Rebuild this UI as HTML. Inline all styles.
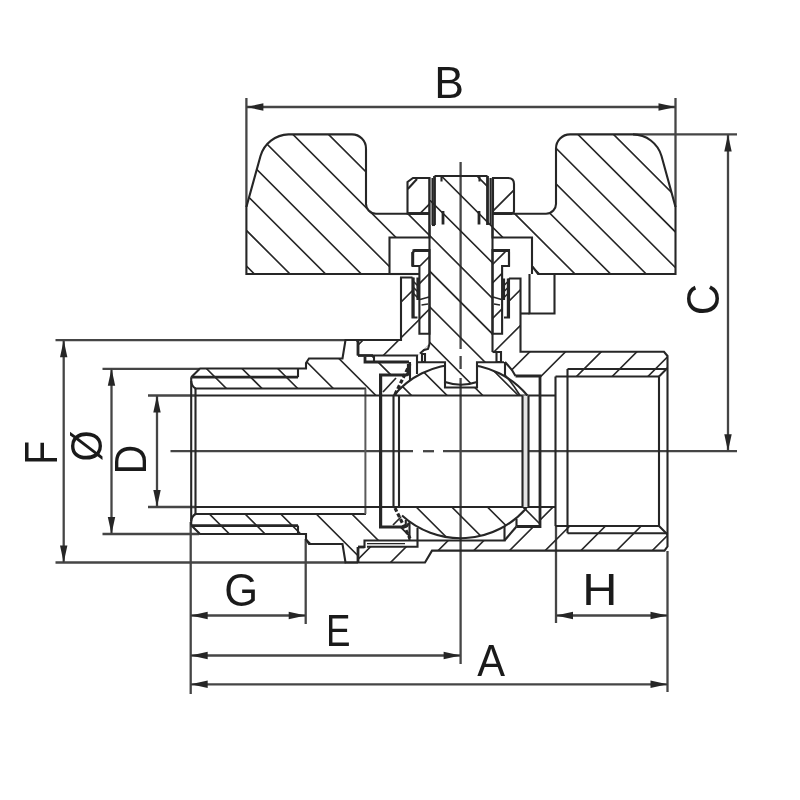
<!DOCTYPE html>
<html><head><meta charset="utf-8"><title>Ball valve drawing</title>
<style>
html,body{margin:0;padding:0;background:#fff;}
body{width:800px;height:800px;overflow:hidden;font-family:"Liberation Sans",sans-serif;}
svg{display:block;filter:grayscale(1);}
svg text{font-family:"Liberation Sans",sans-serif;}
</style></head><body>
<svg width="800" height="800" viewBox="0 0 800 800" stroke="#262626" fill="none" stroke-linecap="butt" stroke-linejoin="miter">
<defs>
<clipPath id="c1"><path d="M246.4 274V207L260.5 156A30 30 0 0 1 288.5 134.4H352A14 14 0 0 1 366 148.4V203A10 10 0 0 0 376 213.7H429.5V237.5H389.5V274Z"/></clipPath>
<clipPath id="c2"><path d="M675.5 274V207L661.5 156A30 30 0 0 0 633 134.4H570A14 14 0 0 0 556 148.4V203A10 10 0 0 1 546 213.7H492.5V237.5H532V266L538 274Z"/></clipPath>
<clipPath id="c3"><path d="M407.5 213.5V182L413 178H429.5V213.5Z"/></clipPath>
<clipPath id="c4"><path d="M493 178H508Q514 178 514 184V211Q514 213.5 511.5 213.5H493Z"/></clipPath>
<clipPath id="c5"><path d="M434.5 176H487.5V200H492.5V352H501V362H477V382Q461 387 445 382V362H420V353.5L424 350L428 349L429.5 344V200H434.5Z"/></clipPath>
<clipPath id="c6"><path d="M358 340H401V277.5H412.5V317.5H419.4V333.7H429.5V344L420 353.5L418 355.5H358Z"/></clipPath>
<clipPath id="c7"><path d="M520.5 278.5H509V317.5H502.1V333.7H492.5V352H501V362H505L515.5 376H540V395.5H555.5V376.5H659L667.5 369V356L664 351.8H520.5Z"/></clipPath>
<clipPath id="c8"><path d="M358 547H417.5V540.5H504.5L516.5 526.5H540V507H555.5V526H659L667.5 533V547Q667.5 550.5 664 550.5H432L425 562.5H358Z"/></clipPath>
<clipPath id="c9"><path d="M191.2 377.2L200 368.5H306V363L309 358.5H342L343.5 357L345.5 340H358V355.5H373V362H408.5V375H381V395.5H366V388.5H195V380Z"/></clipPath>
<clipPath id="c10"><path d="M191.2 525.2L200 534H306V539.4L309 544H342L343.5 545.4L345.5 562.5H358V547H364.5V540.5H409.5V527H381V507H366V514H195V522Z"/></clipPath>
<clipPath id="slot"><path d="M390 360H445V387.5H477V360H530V396H390Z"/></clipPath>
<clipPath id="c12"><path d="M393.8 395.5A87 87 0 0 1 527.4 395.5Z"/></clipPath>
<clipPath id="c13"><path d="M393.8 507A87 87 0 0 0 527.4 507Z"/></clipPath>
</defs>
<line x1="246.4" y1="98" x2="246.4" y2="207" stroke-width="2.3" stroke="#454545"/>
<line x1="675.5" y1="98" x2="675.5" y2="207" stroke-width="2.3" stroke="#454545"/>
<line x1="246.4" y1="107" x2="675.5" y2="107" stroke-width="2.3" stroke="#454545"/>
<polygon points="246.4,107 263.4,103.3 263.4,110.7" fill="#262626" stroke="none"/>
<polygon points="675.5,107 658.5,103.3 658.5,110.7" fill="#262626" stroke="none"/>
<text x="0" y="0" font-size="100" stroke="none" fill="#1a1a1a" transform="matrix(0.4449 0 0 0.4493 434.14 98.00)">B</text>
<line x1="633" y1="134.4" x2="737" y2="134.4" stroke-width="2.3" stroke="#454545"/>
<line x1="667" y1="451.2" x2="737" y2="451.2" stroke-width="2.3" stroke="#454545"/>
<line x1="728" y1="134.4" x2="728" y2="451.2" stroke-width="2.3" stroke="#454545"/>
<polygon points="728,134.4 724.3,151.4 731.7,151.4" fill="#262626" stroke="none"/>
<polygon points="728,451.2 724.3,434.2 731.7,434.2" fill="#262626" stroke="none"/>
<text x="0" y="0" font-size="100" stroke="none" fill="#1a1a1a" transform="matrix(0 -0.4365 0.4577 0 718.54 315.18)">C</text>
<line x1="55.5" y1="340.2" x2="346" y2="340.2" stroke-width="2.3" stroke="#454545"/>
<line x1="55.5" y1="562.5" x2="346" y2="562.5" stroke-width="2.3" stroke="#454545"/>
<line x1="63.7" y1="340.2" x2="63.7" y2="562.5" stroke-width="2.3" stroke="#454545"/>
<polygon points="63.7,340.2 60.0,357.2 67.4,357.2" fill="#262626" stroke="none"/>
<polygon points="63.7,562.5 60.0,545.5 67.4,545.5" fill="#262626" stroke="none"/>
<text x="0" y="0" font-size="100" stroke="none" fill="#1a1a1a" transform="matrix(0 -0.3918 0.4536 0 56.80 464.73)">F</text>
<line x1="102.5" y1="368.8" x2="199" y2="368.8" stroke-width="2.3" stroke="#454545"/>
<line x1="102.5" y1="534" x2="199" y2="534" stroke-width="2.3" stroke="#454545"/>
<line x1="111.5" y1="368.8" x2="111.5" y2="534" stroke-width="2.3" stroke="#454545"/>
<polygon points="111.5,368.8 107.8,385.8 115.2,385.8" fill="#262626" stroke="none"/>
<polygon points="111.5,534 107.8,517 115.2,517" fill="#262626" stroke="none"/>
<text x="0" y="0" font-size="100" stroke="none" fill="#1a1a1a" transform="matrix(0 -0.4000 0.4443 0 101.89 461.50)">Ø</text>
<line x1="148" y1="395.5" x2="195" y2="395.5" stroke-width="2.3" stroke="#454545"/>
<line x1="148" y1="507" x2="195" y2="507" stroke-width="2.3" stroke="#454545"/>
<line x1="157" y1="395.5" x2="157" y2="507" stroke-width="2.3" stroke="#454545"/>
<polygon points="157,395.5 153.3,412.5 160.7,412.5" fill="#262626" stroke="none"/>
<polygon points="157,507 153.3,490 160.7,490" fill="#262626" stroke="none"/>
<text x="0" y="0" font-size="100" stroke="none" fill="#1a1a1a" transform="matrix(0 -0.4118 0.4362 0 146.40 474.59)">D</text>
<line x1="190.7" y1="522" x2="190.7" y2="694" stroke-width="2.3" stroke="#454545"/>
<line x1="667.5" y1="551" x2="667.5" y2="692" stroke-width="2.3" stroke="#454545"/>
<line x1="305.7" y1="539" x2="305.7" y2="624" stroke-width="2.3" stroke="#454545"/>
<line x1="556" y1="526" x2="556" y2="623" stroke-width="2.3" stroke="#454545"/>
<line x1="190.7" y1="615.5" x2="305.7" y2="615.5" stroke-width="2.3" stroke="#454545"/>
<polygon points="190.7,615.5 207.7,611.8 207.7,619.2" fill="#262626" stroke="none"/>
<polygon points="305.7,615.5 288.7,611.8 288.7,619.2" fill="#262626" stroke="none"/>
<text x="0" y="0" font-size="100" stroke="none" fill="#1a1a1a" transform="matrix(0.4351 0 0 0.4577 224.32 606.04)">G</text>
<line x1="190.7" y1="655.5" x2="460.6" y2="655.5" stroke-width="2.3" stroke="#454545"/>
<polygon points="190.7,655.5 207.7,651.8 207.7,659.2" fill="#262626" stroke="none"/>
<polygon points="460.6,655.5 443.6,651.8 443.6,659.2" fill="#262626" stroke="none"/>
<text x="0" y="0" font-size="100" stroke="none" fill="#1a1a1a" transform="matrix(0.3670 0 0 0.4478 326.06 646.20)">E</text>
<line x1="190.7" y1="684.3" x2="667.5" y2="684.3" stroke-width="2.3" stroke="#454545"/>
<polygon points="190.7,684.3 207.7,680.5999999999999 207.7,688.0" fill="#262626" stroke="none"/>
<polygon points="667.5,684.3 650.5,680.5999999999999 650.5,688.0" fill="#262626" stroke="none"/>
<text x="0" y="0" font-size="100" stroke="none" fill="#1a1a1a" transform="matrix(0.4167 0 0 0.4493 477.29 675.50)">A</text>
<line x1="556" y1="615.5" x2="667.5" y2="615.5" stroke-width="2.3" stroke="#454545"/>
<polygon points="556,615.5 573,611.8 573,619.2" fill="#262626" stroke="none"/>
<polygon points="667.5,615.5 650.5,611.8 650.5,619.2" fill="#262626" stroke="none"/>
<text x="0" y="0" font-size="100" stroke="none" fill="#1a1a1a" transform="matrix(0.4875 0 0 0.4348 582.30 605.00)">H</text>
<line x1="460.6" y1="162" x2="460.6" y2="349" stroke-width="2.3" stroke="#454545"/>
<line x1="460.6" y1="356" x2="460.6" y2="369" stroke-width="2.3" stroke="#454545"/>
<line x1="460.6" y1="378" x2="460.6" y2="664" stroke-width="2.3" stroke="#454545"/>
<line x1="170.5" y1="451.2" x2="413" y2="451.2" stroke-width="2.3" stroke="#454545"/>
<line x1="423" y1="451.2" x2="434" y2="451.2" stroke-width="2.3" stroke="#454545"/>
<line x1="443" y1="451.2" x2="667" y2="451.2" stroke-width="2.3" stroke="#454545"/>
<path d="M-838.9 0L-38.9 800M-803.2 0L-3.2 800M-767.6 0L32.4 800M-732.0 0L68.0 800M-696.4 0L103.6 800M-660.8 0L139.2 800M-625.1 0L174.9 800M-589.5 0L210.5 800M-553.9 0L246.1 800M-518.3 0L281.7 800M-482.7 0L317.3 800M-447.0 0L353.0 800M-411.4 0L388.6 800M-375.8 0L424.2 800M-340.2 0L459.8 800M-304.6 0L495.4 800M-268.9 0L531.1 800M-233.3 0L566.7 800M-197.7 0L602.3 800M-162.1 0L637.9 800M-126.5 0L673.5 800M-90.8 0L709.2 800M-55.2 0L744.8 800M-19.6 0L780.4 800M16.0 0L816.0 800M51.6 0L851.6 800M87.3 0L887.3 800M122.9 0L922.9 800M158.5 0L958.5 800M194.1 0L994.1 800M229.7 0L1029.7 800M265.4 0L1065.4 800M301.0 0L1101.0 800M336.6 0L1136.6 800M372.2 0L1172.2 800M407.8 0L1207.8 800M443.5 0L1243.5 800M479.1 0L1279.1 800M514.7 0L1314.7 800M550.3 0L1350.3 800M585.9 0L1385.9 800M621.6 0L1421.6 800M657.2 0L1457.2 800M692.8 0L1492.8 800M728.4 0L1528.4 800M764.0 0L1564.0 800M799.7 0L1599.7 800M835.3 0L1635.3 800" stroke-width="1.6" fill="none" clip-path="url(#c1)"/>
<path d="M-838.9 0L-38.9 800M-803.2 0L-3.2 800M-767.6 0L32.4 800M-732.0 0L68.0 800M-696.4 0L103.6 800M-660.8 0L139.2 800M-625.1 0L174.9 800M-589.5 0L210.5 800M-553.9 0L246.1 800M-518.3 0L281.7 800M-482.7 0L317.3 800M-447.0 0L353.0 800M-411.4 0L388.6 800M-375.8 0L424.2 800M-340.2 0L459.8 800M-304.6 0L495.4 800M-268.9 0L531.1 800M-233.3 0L566.7 800M-197.7 0L602.3 800M-162.1 0L637.9 800M-126.5 0L673.5 800M-90.8 0L709.2 800M-55.2 0L744.8 800M-19.6 0L780.4 800M16.0 0L816.0 800M51.6 0L851.6 800M87.3 0L887.3 800M122.9 0L922.9 800M158.5 0L958.5 800M194.1 0L994.1 800M229.7 0L1029.7 800M265.4 0L1065.4 800M301.0 0L1101.0 800M336.6 0L1136.6 800M372.2 0L1172.2 800M407.8 0L1207.8 800M443.5 0L1243.5 800M479.1 0L1279.1 800M514.7 0L1314.7 800M550.3 0L1350.3 800M585.9 0L1385.9 800M621.6 0L1421.6 800M657.2 0L1457.2 800M692.8 0L1492.8 800M728.4 0L1528.4 800M764.0 0L1564.0 800M799.7 0L1599.7 800M835.3 0L1635.3 800" stroke-width="1.6" fill="none" clip-path="url(#c2)"/>
<path d="M246.4 274V207L260.5 156A30 30 0 0 1 288.5 134.4H352A14 14 0 0 1 366 148.4V203A10 10 0 0 0 376 213.7H429.5V237.5H389.5V274Z" stroke-width="2.1" fill="none" />
<path d="M675.5 274V207L661.5 156A30 30 0 0 0 633 134.4H570A14 14 0 0 0 556 148.4V203A10 10 0 0 1 546 213.7H492.5V237.5H532V266L538 274Z" stroke-width="2.1" fill="none" />
<line x1="389.5" y1="274" x2="419.5" y2="274" stroke-width="2.1" />
<line x1="532" y1="266" x2="532" y2="274" stroke-width="2.1" />
<path d="M529.5 274V313.5H554.5V274" stroke-width="2.1" fill="none" />
<line x1="521" y1="313.5" x2="529.5" y2="313.5" stroke-width="2.1" />
<path d="M-566.5 0L-1366.5 800M-166.5 0L-966.5 800M233.5 0L-566.5 800M633.5 0L-166.5 800M1033.5 0L233.5 800M1433.5 0L633.5 800M1833.5 0L1033.5 800" stroke-width="1.6" fill="none" clip-path="url(#c3)"/>
<path d="M-496.0 0L-1296.0 800M-96.0 0L-896.0 800M304.0 0L-496.0 800M704.0 0L-96.0 800M1104.0 0L304.0 800M1504.0 0L704.0 800M1904.0 0L1104.0 800" stroke-width="1.6" fill="none" clip-path="url(#c4)"/>
<path d="M407.5 213.5V182L413 178H429.5V213.5Z" stroke-width="2.1" fill="none" />
<path d="M493 178H508Q514 178 514 184V211Q514 213.5 511.5 213.5H493Z" stroke-width="2.1" fill="none" />
<line x1="407.8" y1="189" x2="417" y2="179" stroke-width="2.1" />
<line x1="407.5" y1="213.5" x2="429.5" y2="213.5" stroke-width="2.8" />
<line x1="493" y1="213.5" x2="512" y2="213.5" stroke-width="2.8" />
<rect x="487.5" y="178" width="5" height="47" fill="#bdbdbd" stroke="none"/>
<rect x="430" y="178" width="4" height="47" fill="#dcdcdc" stroke="none"/>
<line x1="432.3" y1="178" x2="432.3" y2="225" stroke-width="1.5" />
<line x1="434.5" y1="176" x2="434.5" y2="225" stroke-width="2.8" />
<path d="M432 225H435" stroke-width="2.1" fill="none" />
<line x1="487.5" y1="176" x2="487.5" y2="225" stroke-width="2.8" />
<line x1="490.5" y1="178" x2="490.5" y2="225" stroke-width="1.5" />
<line x1="441.5" y1="177" x2="441.5" y2="181.5" stroke-width="2.1" />
<line x1="443" y1="211" x2="443" y2="224.5" stroke-width="2.8" />
<line x1="479.5" y1="177" x2="479.5" y2="181.5" stroke-width="2.1" />
<line x1="479" y1="211" x2="479" y2="224.5" stroke-width="2.8" />
<path d="M-838.9 0L-38.9 800M-803.2 0L-3.2 800M-767.6 0L32.4 800M-732.0 0L68.0 800M-696.4 0L103.6 800M-660.8 0L139.2 800M-625.1 0L174.9 800M-589.5 0L210.5 800M-553.9 0L246.1 800M-518.3 0L281.7 800M-482.7 0L317.3 800M-447.0 0L353.0 800M-411.4 0L388.6 800M-375.8 0L424.2 800M-340.2 0L459.8 800M-304.6 0L495.4 800M-268.9 0L531.1 800M-233.3 0L566.7 800M-197.7 0L602.3 800M-162.1 0L637.9 800M-126.5 0L673.5 800M-90.8 0L709.2 800M-55.2 0L744.8 800M-19.6 0L780.4 800M16.0 0L816.0 800M51.6 0L851.6 800M87.3 0L887.3 800M122.9 0L922.9 800M158.5 0L958.5 800M194.1 0L994.1 800M229.7 0L1029.7 800M265.4 0L1065.4 800M301.0 0L1101.0 800M336.6 0L1136.6 800M372.2 0L1172.2 800M407.8 0L1207.8 800M443.5 0L1243.5 800M479.1 0L1279.1 800M514.7 0L1314.7 800M550.3 0L1350.3 800M585.9 0L1385.9 800M621.6 0L1421.6 800M657.2 0L1457.2 800M692.8 0L1492.8 800M728.4 0L1528.4 800M764.0 0L1564.0 800M799.7 0L1599.7 800M835.3 0L1635.3 800" stroke-width="1.6" fill="none" clip-path="url(#c5)"/>
<path d="M434.5 176H487.5" stroke-width="2.1" fill="none" />
<line x1="429.5" y1="178" x2="429.5" y2="344" stroke-width="2.1" />
<line x1="492.5" y1="178" x2="492.5" y2="352" stroke-width="2.1" />
<path d="M429.5 344L428 349L424 350L420 353.5" stroke-width="2.1" fill="none" />
<path d="M422 354H425V362H422Z" stroke-width="2.1" fill="none" />
<path d="M496.5 352H501V362H496.5Z" stroke-width="2.1" fill="none" />
<path d="M418 362.3H445V382Q461 387.5 477 382V362.3H504" stroke-width="2.1" fill="none" />
<line x1="492.5" y1="352" x2="496.5" y2="352" stroke-width="2.1" />
<path d="M445 382V387.5H477V382" stroke-width="2.1" fill="none" />
<path d="M412.5 266V253L415 250H429.5V333.7H419.4V266Z" stroke-width="2.1" fill="none" />
<path d="M509 266V250H492.5V333.7H502.1V266Z" stroke-width="2.1" fill="none" />
<line x1="412.5" y1="250.6" x2="429" y2="250.6" stroke-width="2.8" />
<line x1="493" y1="250.6" x2="509" y2="250.6" stroke-width="2.8" />
<line x1="412.8" y1="252" x2="412.8" y2="266" stroke-width="2.8" />
<line x1="509" y1="252" x2="509" y2="266" stroke-width="2.1" />
<line x1="420" y1="266" x2="429.5" y2="256.5" stroke-width="1.7" />
<line x1="419.4" y1="283.6" x2="429.5" y2="273.5" stroke-width="1.7" />
<line x1="419.4" y1="319.1" x2="429.5" y2="309.0" stroke-width="1.7" />
<line x1="492.5" y1="264.5" x2="507" y2="250" stroke-width="1.7" />
<line x1="492.5" y1="283.0" x2="502.1" y2="273.4" stroke-width="1.7" />
<line x1="492.5" y1="318.5" x2="502.1" y2="308.9" stroke-width="1.7" />
<path d="M420 299.5L429 297M421.5 305L428 304" stroke-width="1.5" fill="none" />
<path d="M501.5 299.5L493 297M500 305L494 304" stroke-width="1.5" fill="none" />
<path d="M412.5 277.5V317.5H417.5" stroke-width="2.1" fill="none" />
<line x1="413.3" y1="277.5" x2="413.3" y2="317.5" stroke-width="2.8" />
<line x1="417.8" y1="277.5" x2="417.8" y2="300" stroke-width="2.8" />
<path d="M413 281L418 286M413 287L418 292M413 293L418 298" stroke-width="1.6" fill="none" />
<path d="M509 278.5V317.5H504" stroke-width="2.1" fill="none" />
<line x1="508.2" y1="278.5" x2="508.2" y2="317.5" stroke-width="2.8" />
<line x1="503.7" y1="278.5" x2="503.7" y2="300" stroke-width="2.8" />
<path d="M508.5 281L503.5 286M508.5 287L503.5 292M508.5 293L503.5 298" stroke-width="1.6" fill="none" />
<path d="M-46.6 0L-846.6 800M-10.9 0L-810.9 800M24.8 0L-775.2 800M60.5 0L-739.5 800M96.2 0L-703.8 800M131.9 0L-668.1 800M167.6 0L-632.4 800M203.3 0L-596.7 800M239.0 0L-561.0 800M274.7 0L-525.3 800M310.4 0L-489.6 800M346.1 0L-453.9 800M381.8 0L-418.2 800M417.5 0L-382.5 800M453.2 0L-346.8 800M488.9 0L-311.1 800M524.6 0L-275.4 800M560.3 0L-239.7 800M596.0 0L-204.0 800M631.7 0L-168.3 800M667.4 0L-132.6 800M703.1 0L-96.9 800M738.8 0L-61.2 800M774.5 0L-25.5 800M810.2 0L10.2 800M845.9 0L45.9 800M881.6 0L81.6 800M917.3 0L117.3 800M953.0 0L153.0 800M988.7 0L188.7 800M1024.4 0L224.4 800M1060.1 0L260.1 800M1095.8 0L295.8 800M1131.5 0L331.5 800M1167.2 0L367.2 800M1202.9 0L402.9 800M1238.6 0L438.6 800M1274.3 0L474.3 800M1310.0 0L510.0 800M1345.7 0L545.7 800M1381.4 0L581.4 800M1417.1 0L617.1 800M1452.8 0L652.8 800M1488.5 0L688.5 800M1524.2 0L724.2 800M1559.9 0L759.9 800M1595.6 0L795.6 800M1631.3 0L831.3 800" stroke-width="1.6" fill="none" clip-path="url(#c6)"/>
<path d="M-46.6 0L-846.6 800M-10.9 0L-810.9 800M24.8 0L-775.2 800M60.5 0L-739.5 800M96.2 0L-703.8 800M131.9 0L-668.1 800M167.6 0L-632.4 800M203.3 0L-596.7 800M239.0 0L-561.0 800M274.7 0L-525.3 800M310.4 0L-489.6 800M346.1 0L-453.9 800M381.8 0L-418.2 800M417.5 0L-382.5 800M453.2 0L-346.8 800M488.9 0L-311.1 800M524.6 0L-275.4 800M560.3 0L-239.7 800M596.0 0L-204.0 800M631.7 0L-168.3 800M667.4 0L-132.6 800M703.1 0L-96.9 800M738.8 0L-61.2 800M774.5 0L-25.5 800M810.2 0L10.2 800M845.9 0L45.9 800M881.6 0L81.6 800M917.3 0L117.3 800M953.0 0L153.0 800M988.7 0L188.7 800M1024.4 0L224.4 800M1060.1 0L260.1 800M1095.8 0L295.8 800M1131.5 0L331.5 800M1167.2 0L367.2 800M1202.9 0L402.9 800M1238.6 0L438.6 800M1274.3 0L474.3 800M1310.0 0L510.0 800M1345.7 0L545.7 800M1381.4 0L581.4 800M1417.1 0L617.1 800M1452.8 0L652.8 800M1488.5 0L688.5 800M1524.2 0L724.2 800M1559.9 0L759.9 800M1595.6 0L795.6 800M1631.3 0L831.3 800" stroke-width="1.6" fill="none" clip-path="url(#c7)"/>
<path d="M-46.6 0L-846.6 800M-10.9 0L-810.9 800M24.8 0L-775.2 800M60.5 0L-739.5 800M96.2 0L-703.8 800M131.9 0L-668.1 800M167.6 0L-632.4 800M203.3 0L-596.7 800M239.0 0L-561.0 800M274.7 0L-525.3 800M310.4 0L-489.6 800M346.1 0L-453.9 800M381.8 0L-418.2 800M417.5 0L-382.5 800M453.2 0L-346.8 800M488.9 0L-311.1 800M524.6 0L-275.4 800M560.3 0L-239.7 800M596.0 0L-204.0 800M631.7 0L-168.3 800M667.4 0L-132.6 800M703.1 0L-96.9 800M738.8 0L-61.2 800M774.5 0L-25.5 800M810.2 0L10.2 800M845.9 0L45.9 800M881.6 0L81.6 800M917.3 0L117.3 800M953.0 0L153.0 800M988.7 0L188.7 800M1024.4 0L224.4 800M1060.1 0L260.1 800M1095.8 0L295.8 800M1131.5 0L331.5 800M1167.2 0L367.2 800M1202.9 0L402.9 800M1238.6 0L438.6 800M1274.3 0L474.3 800M1310.0 0L510.0 800M1345.7 0L545.7 800M1381.4 0L581.4 800M1417.1 0L617.1 800M1452.8 0L652.8 800M1488.5 0L688.5 800M1524.2 0L724.2 800M1559.9 0L759.9 800M1595.6 0L795.6 800M1631.3 0L831.3 800" stroke-width="1.6" fill="none" clip-path="url(#c8)"/>
<path d="M358 355.5V340H401V277.5H412.5" stroke-width="2.1" fill="none" />
<line x1="358" y1="340" x2="358" y2="355.5" stroke-width="2.8" />
<path d="M509 278.5H520.5V351.8H664L667.5 356V546.5L664.5 550.6H432L425 562.5H346" stroke-width="2.1" fill="none" />
<line x1="358" y1="547" x2="358" y2="562.5" stroke-width="2.8" />
<path d="M358 547H364.5V540.5H418" stroke-width="2.1" fill="none" />
<path d="M367 546.8H417.5V528" stroke-width="2.1" fill="none" />
<line x1="367" y1="543.6" x2="405" y2="543.6" stroke-width="1.3" />
<line x1="358" y1="547" x2="364.5" y2="547" stroke-width="2.8" />
<path d="M418 540.5H504.5V526" stroke-width="2.1" fill="none" />
<path d="M504.5 540.5L516.5 526.5" stroke-width="2.1" fill="none" />
<path d="M516.5 526.5H540V376H515.5" stroke-width="2.8" fill="none" />
<path d="M515.5 376L512 370L505 362" stroke-width="2.1" fill="none" />
<line x1="505" y1="362" x2="505" y2="375" stroke-width="2.1" />
<path d="M358 355.5H373" stroke-width="2.8" fill="none" />
<path d="M373 355.5H418" stroke-width="2.1" fill="none" />
<path d="M365 356.5V362H409" stroke-width="2.8" fill="none" />
<path d="M374 356V362" stroke-width="2.1" fill="none" />
<path d="M555.5 376.5H659M555.5 526H659" stroke-width="2.1" fill="none" />
<path d="M567.5 369H667.5M567.5 533.2H667.5" stroke-width="2.1" fill="none" />
<line x1="555.5" y1="376.5" x2="555.5" y2="526" stroke-width="2.1" />
<line x1="567.5" y1="369" x2="567.5" y2="533.2" stroke-width="2.1" />
<line x1="659" y1="376.5" x2="659" y2="526" stroke-width="2.1" />
<path d="M659 376.5L667.5 368M659 526L667.5 534.4" stroke-width="2.1" fill="none" />
<path d="M-838.9 0L-38.9 800M-803.2 0L-3.2 800M-767.6 0L32.4 800M-732.0 0L68.0 800M-696.4 0L103.6 800M-660.8 0L139.2 800M-625.1 0L174.9 800M-589.5 0L210.5 800M-553.9 0L246.1 800M-518.3 0L281.7 800M-482.7 0L317.3 800M-447.0 0L353.0 800M-411.4 0L388.6 800M-375.8 0L424.2 800M-340.2 0L459.8 800M-304.6 0L495.4 800M-268.9 0L531.1 800M-233.3 0L566.7 800M-197.7 0L602.3 800M-162.1 0L637.9 800M-126.5 0L673.5 800M-90.8 0L709.2 800M-55.2 0L744.8 800M-19.6 0L780.4 800M16.0 0L816.0 800M51.6 0L851.6 800M87.3 0L887.3 800M122.9 0L922.9 800M158.5 0L958.5 800M194.1 0L994.1 800M229.7 0L1029.7 800M265.4 0L1065.4 800M301.0 0L1101.0 800M336.6 0L1136.6 800M372.2 0L1172.2 800M407.8 0L1207.8 800M443.5 0L1243.5 800M479.1 0L1279.1 800M514.7 0L1314.7 800M550.3 0L1350.3 800M585.9 0L1385.9 800M621.6 0L1421.6 800M657.2 0L1457.2 800M692.8 0L1492.8 800M728.4 0L1528.4 800M764.0 0L1564.0 800M799.7 0L1599.7 800M835.3 0L1635.3 800" stroke-width="1.6" fill="none" clip-path="url(#c9)"/>
<path d="M-838.9 0L-38.9 800M-803.2 0L-3.2 800M-767.6 0L32.4 800M-732.0 0L68.0 800M-696.4 0L103.6 800M-660.8 0L139.2 800M-625.1 0L174.9 800M-589.5 0L210.5 800M-553.9 0L246.1 800M-518.3 0L281.7 800M-482.7 0L317.3 800M-447.0 0L353.0 800M-411.4 0L388.6 800M-375.8 0L424.2 800M-340.2 0L459.8 800M-304.6 0L495.4 800M-268.9 0L531.1 800M-233.3 0L566.7 800M-197.7 0L602.3 800M-162.1 0L637.9 800M-126.5 0L673.5 800M-90.8 0L709.2 800M-55.2 0L744.8 800M-19.6 0L780.4 800M16.0 0L816.0 800M51.6 0L851.6 800M87.3 0L887.3 800M122.9 0L922.9 800M158.5 0L958.5 800M194.1 0L994.1 800M229.7 0L1029.7 800M265.4 0L1065.4 800M301.0 0L1101.0 800M336.6 0L1136.6 800M372.2 0L1172.2 800M407.8 0L1207.8 800M443.5 0L1243.5 800M479.1 0L1279.1 800M514.7 0L1314.7 800M550.3 0L1350.3 800M585.9 0L1385.9 800M621.6 0L1421.6 800M657.2 0L1457.2 800M692.8 0L1492.8 800M728.4 0L1528.4 800M764.0 0L1564.0 800M799.7 0L1599.7 800M835.3 0L1635.3 800" stroke-width="1.6" fill="none" clip-path="url(#c10)"/>
<path d="M191.2 377.2L200 368.5H306V363L309 358.5H342.5L345.5 340H358" stroke-width="2.1" fill="none" />
<path d="M191.2 525.2L200 534H306V539.4L309 544H342.5L345.5 562.5H358" stroke-width="2.1" fill="none" />
<line x1="191.2" y1="377.2" x2="191.2" y2="525.2" stroke-width="2.1" />
<line x1="195.5" y1="388.5" x2="195.5" y2="514" stroke-width="2.1" />
<path d="M191.2 381Q191.5 386 195.5 388.5M191.2 521.4Q191.5 516.4 195.5 514" stroke-width="2.1" fill="none" />
<line x1="192" y1="377.2" x2="298" y2="377.2" stroke-width="2.8" />
<line x1="298" y1="369" x2="298" y2="377.2" stroke-width="2.1" />
<line x1="192" y1="525.6" x2="298" y2="525.6" stroke-width="2.8" />
<line x1="298" y1="525.6" x2="298" y2="534" stroke-width="2.1" />
<line x1="195" y1="388.5" x2="366" y2="388.5" stroke-width="2.1" />
<line x1="195" y1="514" x2="366" y2="514" stroke-width="2.1" />
<line x1="365.4" y1="388.5" x2="365.4" y2="514" stroke-width="2.0" stroke="#5a5a5a"/>
<line x1="195" y1="395.5" x2="555.5" y2="395.5" stroke-width="2.1" />
<line x1="195" y1="507" x2="555.5" y2="507" stroke-width="2.1" />
<path d="M408.5 364V372Q408.5 375 405.5 375H380.6V527H404" stroke-width="3.2" fill="none" />
<path d="M404 527Q408 527 408.5 523" stroke-width="2.1" fill="none" />
<line x1="393.5" y1="395.5" x2="393.5" y2="507" stroke-width="2.1" />
<line x1="399" y1="395.5" x2="399" y2="507" stroke-width="2.1" />
<rect x="522.5" y="395.5" width="6" height="111.5" fill="#e4e4e4" stroke="none"/>
<line x1="522.5" y1="395.5" x2="522.5" y2="507" stroke-width="2.1" />
<line x1="528.5" y1="395.5" x2="528.5" y2="507" stroke-width="2.1" />
<path d="M383 392L396 378" stroke-width="1.7" fill="none" />
<path d="M395 394.4L410 364" stroke-width="3.2" fill="none" stroke-dasharray="4 2.2"/>
<line x1="410" y1="362" x2="410" y2="381" stroke-width="2.1" />
<line x1="417" y1="355.5" x2="417" y2="374" stroke-width="2.1" />
<path d="M393 525L401 517" stroke-width="1.7" fill="none" />
<path d="M395 508L410 538.5" stroke-width="3.2" fill="none" stroke-dasharray="4 2.2"/>
<line x1="405.8" y1="520" x2="405.8" y2="527" stroke-width="2.1" />
<line x1="409.5" y1="522" x2="409.5" y2="540.5" stroke-width="2.1" />
<path d="M524 508L540 524" stroke-width="1.7" fill="none" />
<line x1="516.5" y1="519" x2="516.5" y2="526.5" stroke-width="2.1" />
<path d="M505 375Q513 384 520 395.5" stroke-width="1.7" fill="none" />
<g clip-path="url(#slot)">
<path d="M-838.9 0L-38.9 800M-803.2 0L-3.2 800M-767.6 0L32.4 800M-732.0 0L68.0 800M-696.4 0L103.6 800M-660.8 0L139.2 800M-625.1 0L174.9 800M-589.5 0L210.5 800M-553.9 0L246.1 800M-518.3 0L281.7 800M-482.7 0L317.3 800M-447.0 0L353.0 800M-411.4 0L388.6 800M-375.8 0L424.2 800M-340.2 0L459.8 800M-304.6 0L495.4 800M-268.9 0L531.1 800M-233.3 0L566.7 800M-197.7 0L602.3 800M-162.1 0L637.9 800M-126.5 0L673.5 800M-90.8 0L709.2 800M-55.2 0L744.8 800M-19.6 0L780.4 800M16.0 0L816.0 800M51.6 0L851.6 800M87.3 0L887.3 800M122.9 0L922.9 800M158.5 0L958.5 800M194.1 0L994.1 800M229.7 0L1029.7 800M265.4 0L1065.4 800M301.0 0L1101.0 800M336.6 0L1136.6 800M372.2 0L1172.2 800M407.8 0L1207.8 800M443.5 0L1243.5 800M479.1 0L1279.1 800M514.7 0L1314.7 800M550.3 0L1350.3 800M585.9 0L1385.9 800M621.6 0L1421.6 800M657.2 0L1457.2 800M692.8 0L1492.8 800M728.4 0L1528.4 800M764.0 0L1564.0 800M799.7 0L1599.7 800M835.3 0L1635.3 800" stroke-width="1.6" fill="none" clip-path="url(#c12)"/>
</g>
<path d="M-838.9 0L-38.9 800M-803.2 0L-3.2 800M-767.6 0L32.4 800M-732.0 0L68.0 800M-696.4 0L103.6 800M-660.8 0L139.2 800M-625.1 0L174.9 800M-589.5 0L210.5 800M-553.9 0L246.1 800M-518.3 0L281.7 800M-482.7 0L317.3 800M-447.0 0L353.0 800M-411.4 0L388.6 800M-375.8 0L424.2 800M-340.2 0L459.8 800M-304.6 0L495.4 800M-268.9 0L531.1 800M-233.3 0L566.7 800M-197.7 0L602.3 800M-162.1 0L637.9 800M-126.5 0L673.5 800M-90.8 0L709.2 800M-55.2 0L744.8 800M-19.6 0L780.4 800M16.0 0L816.0 800M51.6 0L851.6 800M87.3 0L887.3 800M122.9 0L922.9 800M158.5 0L958.5 800M194.1 0L994.1 800M229.7 0L1029.7 800M265.4 0L1065.4 800M301.0 0L1101.0 800M336.6 0L1136.6 800M372.2 0L1172.2 800M407.8 0L1207.8 800M443.5 0L1243.5 800M479.1 0L1279.1 800M514.7 0L1314.7 800M550.3 0L1350.3 800M585.9 0L1385.9 800M621.6 0L1421.6 800M657.2 0L1457.2 800M692.8 0L1492.8 800M728.4 0L1528.4 800M764.0 0L1564.0 800M799.7 0L1599.7 800M835.3 0L1635.3 800" stroke-width="1.6" fill="none" clip-path="url(#c13)"/>
<g clip-path="url(#slot)">
<path d="M393.8 395.5A87 87 0 0 1 527.4 395.5" stroke-width="2.1" fill="none" />
</g>
<path d="M402.0 515.5A87 87 0 0 0 526.5 508.0" stroke-width="2.1" fill="none" />
</svg>
</body></html>
